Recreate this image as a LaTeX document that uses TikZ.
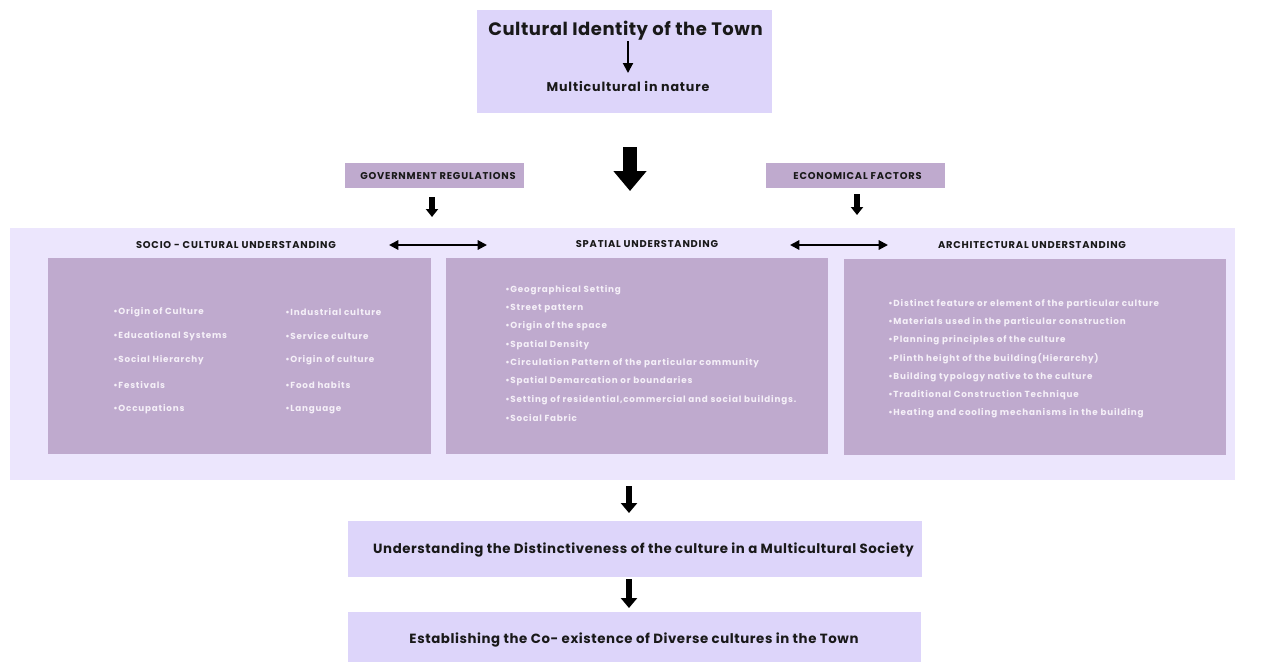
\documentclass[tikz,border=0pt]{standalone}
\usepackage{fontspec}
\setmainfont{Poppins}
\usetikzlibrary{arrows.meta}
\definecolor{topfill}{RGB}{221,213,250}
\definecolor{bgfill}{RGB}{236,230,253}
\definecolor{panelfill}{RGB}{191,170,206}
\definecolor{bullettext}{RGB}{245,240,248}
\definecolor{darktext}{RGB}{25,25,25}
\tikzset{
  sz/.style 2 args={minimum width=#1*0.75pt, minimum height=#2*0.75pt},
  plainbox/.style={draw=none, inner sep=0pt, outer sep=0pt},
  lightbox/.style={plainbox, fill=topfill},
  panelbox/.style={plainbox, fill=panelfill},
  bgbox/.style={plainbox, fill=bgfill},
  headtxt/.style={text=darktext, font=\fontsize{7.4}{8}\selectfont\bfseries\addfontfeatures{LetterSpace=8}, inner sep=0pt},
  bullet/.style={text=bullettext, font=\fontsize{6.6}{7}\selectfont\bfseries\addfontfeatures{LetterSpace=9}, anchor=west, inner sep=0pt},
  bigtxt/.style={text=darktext, font=\fontsize{10}{11}\selectfont\bfseries\addfontfeatures{LetterSpace=4.3}, inner sep=0pt},
  bigarrow/.style={draw=black, line width=10.5pt, -{Triangle[width=24pt,length=15pt]}},
  midarrow/.style={draw=black, line width=5pt, -{Triangle[width=12pt,length=7.5pt]}},
  smallarrow/.style={draw=black, line width=3.8pt, -{Triangle[width=9pt,length=6pt]}},
  thinarrow/.style={draw=black, line width=1.5pt, -{Triangle[width=7.5pt,length=7.5pt]}},
  dblarrow/.style={draw=black, line width=1.5pt, {Triangle[width=7pt,length=7pt]}-{Triangle[width=7pt,length=7pt]}},
}
\begin{document}
\begin{tikzpicture}[x=0.75pt,y=-0.75pt]
\useasboundingbox (0,0) rectangle (1263,662);
\fill[white] (0,0) rectangle (1263,662);
% top box
\node[lightbox, sz={295}{103}] (top) at (624.5,61.5) {};
\node[text=darktext, font=\fontsize{13.5}{15}\selectfont\bfseries\addfontfeatures{LetterSpace=3}, inner sep=0pt] (title) at (625.5,31) {Cultural Identity of the Town};
\node[text=darktext, font=\fontsize{9.5}{11}\selectfont\bfseries\addfontfeatures{LetterSpace=6.7}, inner sep=0pt] (multi) at (628,86) {Multicultural in nature};
\coordinate (t1) at (628,41);
\coordinate (t2) at (628,73);
\draw[thinarrow] (t1) -- (t2);
% big arrow
\coordinate (b1) at (630,147);
\coordinate (b2) at (630,191);
\draw[bigarrow] (b1) -- (b2);
% factor boxes
\node[panelbox, sz={179}{25}] (gov) at (434.5,175.5) {};
\node[headtxt] at (438,176) {GOVERNMENT REGULATIONS};
\node[panelbox, sz={179}{25}] (eco) at (855.5,175.5) {};
\node[headtxt] at (857.5,176) {ECONOMICAL FACTORS};
\coordinate (g1) at (432,197);
\coordinate (g2) at (432,217);
\draw[smallarrow] (g1) -- (g2);
\coordinate (e1) at (857,194);
\coordinate (e2) at (857,215);
\draw[smallarrow] (e1) -- (e2);
% background
\node[bgbox, sz={1225}{252}] (bg) at (622.5,354) {};
\node[headtxt] (hsoc) at (236,245.5) {SOCIO - CULTURAL UNDERSTANDING};
\node[headtxt] (hspa) at (647,244.5) {SPATIAL UNDERSTANDING};
\node[headtxt] (harc) at (1032,245.5) {ARCHITECTURAL UNDERSTANDING};
\coordinate (d1) at (389,245);
\coordinate (d2) at (487,245);
\draw[dblarrow] (d1) -- (d2);
\coordinate (d3) at (790,245);
\coordinate (d4) at (888,245);
\draw[dblarrow] (d3) -- (d4);
% panels
\node[panelbox, sz={383}{196}] (psoc) at (239.5,356) {};
\node[panelbox, sz={382}{196}] (pspa) at (637,356) {};
\node[panelbox, sz={382}{196}] (parc) at (1035,357) {};
% socio bullets
\foreach \t [count=\i from 0] in {Origin of Culture,Educational Systems,Social Hierarchy,Festivals,Occupations}
  \node[bullet] (sa\i) at (113,312+24.3*\i) {•\t};
\foreach \t [count=\i from 0] in {Industrial culture,Service culture,Origin of culture,Food habits,Language}
  \node[bullet] (sb\i) at (285,312+24.3*\i) {•\t};
% spatial bullets
\foreach \t [count=\i from 0] in {Geographical Setting,Street pattern,Origin of the space,Spatial Density,Circulation Pattern of the particular community,Spatial Demarcation or boundaries,{Setting of residential,commercial and social buildings.},Social Fabric}
  \node[bullet] (sp\i) at (505,290+18.3*\i) {•\t};
% architectural bullets
\foreach \t [count=\i from 0] in {Distinct feature or element of the particular culture,Materials used in the particular construction,Planning principles of the culture,Plinth height of the building(Hierarchy),Building typology native to the culture,Traditional Construction Technique,Heating and cooling mechanisms in the building}
  \node[bullet] (ar\i) at (888,304+18.2*\i) {•\t};
% lower arrows and boxes
\coordinate (l1) at (629,486);
\coordinate (l2) at (629,513);
\draw[midarrow] (l1) -- (l2);
\node[lightbox, sz={574}{56}] (und) at (635,549) {};
\node[bigtxt] at (643.5,549.5) {Understanding the Distinctiveness of the culture in a Multicultural Society};
\coordinate (l3) at (629,579);
\coordinate (l4) at (629,608);
\draw[midarrow] (l3) -- (l4);
\node[lightbox, sz={573}{50}] (est) at (634.5,637) {};
\node[bigtxt] at (634,640) {Establishing the Co- existence of Diverse cultures in the Town};
\end{tikzpicture}
\end{document}
